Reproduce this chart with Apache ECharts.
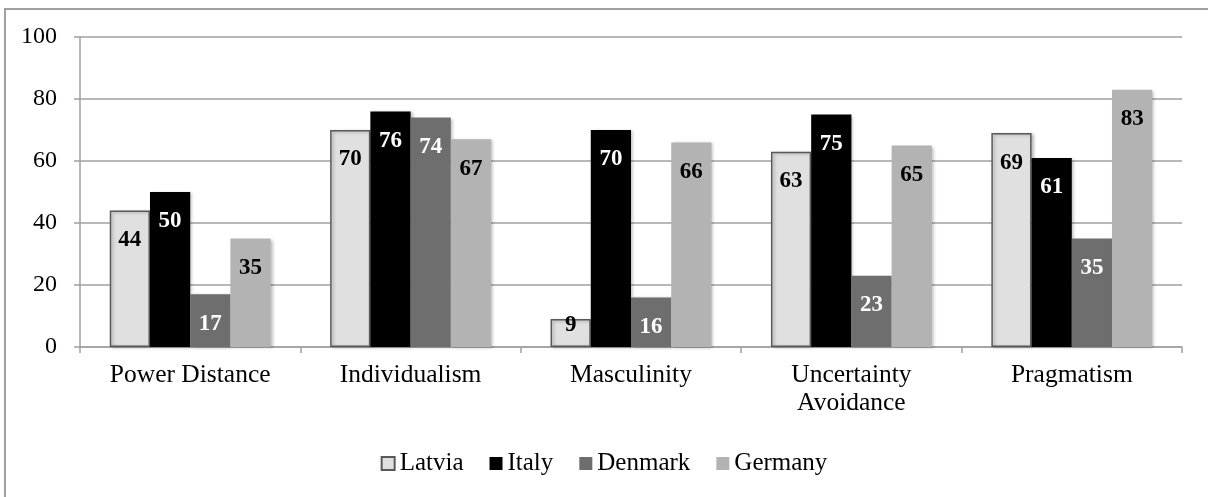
<!DOCTYPE html>
<html>
<head>
<meta charset="utf-8">
<script src="https://cdn.jsdelivr.net/npm/echarts@6/dist/echarts.min.js"></script>
<style>
  html, body { margin: 0; padding: 0; background: #fff; }
  #chart { width: 1208px; height: 497px; }
</style>
</head>
<body>
<div id="chart"></div>
<script>
// Cultural dimension scores per country
const categories = ['Power Distance', 'Individualism', 'Masculinity', 'Uncertainty\nAvoidance', 'Pragmatism'];
const latvia  = [44, 70, 9, 63, 69];
const italy   = [50, 76, 70, 75, 61];
const denmark = [17, 74, 16, 23, 35];
const germany = [35, 67, 66, 65, 83];
const yTicks  = [0, 20, 40, 60, 80, 100];

const FONT = 'Liberation Serif';

function makeSeries(name, values, fill, labelColor, border) {
  return {
    name: name,
    type: 'bar',
    barGap: '0%',
    barCategoryGap: '27%',
    itemStyle: {
      color: fill,
      borderColor: border || fill,
      borderWidth: border ? 1.5 : 0,
      shadowColor: 'rgba(0,0,0,0.25)',
      shadowBlur: 3,
      shadowOffsetX: 2,
      shadowOffsetY: 1
    },
    label: {
      show: true,
      position: 'insideTop',
      distance: 18,
      color: labelColor,
      fontFamily: FONT,
      fontWeight: 'bold',
      fontSize: 23
    },
    data: values.map(v => v < 15
      ? { value: v, label: { position: 'top', distance: -17 } }
      : v)
  };
}

const chart = echarts.init(document.getElementById('chart'), null, { renderer: 'canvas' });
chart.setOption({
  animation: false,
  backgroundColor: '#fff',
  graphic: [{
    type: 'rect',
    shape: { x: 5, y: 9, width: 1300, height: 600 },
    style: { fill: 'none', stroke: '#a0a0a0', lineWidth: 2 },
    silent: true
  }],
  grid: { left: 80, right: 26, top: 37, bottom: 150, containLabel: false },
  legend: {
    bottom: 16,
    left: 'center',
    itemWidth: 13,
    itemHeight: 13,
    itemGap: 26,
    icon: 'rect',
    textStyle: { fontFamily: FONT, fontSize: 25, color: '#000', padding: [0, 0, 0, 0] },
    data: ['Latvia', 'Italy', 'Denmark', 'Germany']
  },
  xAxis: {
    type: 'category',
    data: categories,
    axisLine: { lineStyle: { color: '#a0a0a0', width: 1.5 } },
    axisTick: { show: true, length: 6, lineStyle: { color: '#a0a0a0', width: 1.5 } },
    axisLabel: { fontFamily: FONT, fontSize: 25.5, color: '#000', margin: 14, lineHeight: 28, interval: 0 }
  },
  yAxis: {
    type: 'value',
    min: yTicks[0],
    max: yTicks[yTicks.length - 1],
    interval: 20,
    axisLine: { show: true, lineStyle: { color: '#a0a0a0', width: 1.5 } },
    axisTick: { show: true, length: 6, lineStyle: { color: '#a0a0a0', width: 1.5 } },
    splitLine: { show: true, lineStyle: { color: '#a0a0a0', width: 1.5 } },
    axisLabel: { fontFamily: FONT, fontSize: 24, color: '#000', margin: 23 }
  },
  series: [
    makeSeries('Latvia', latvia, '#e0e0e0', '#000', '#595959'),
    makeSeries('Italy', italy, '#000000', '#fff'),
    makeSeries('Denmark', denmark, '#6e6e6e', '#fff'),
    makeSeries('Germany', germany, '#b3b3b3', '#000')
  ]
});
</script>
</body>
</html>
